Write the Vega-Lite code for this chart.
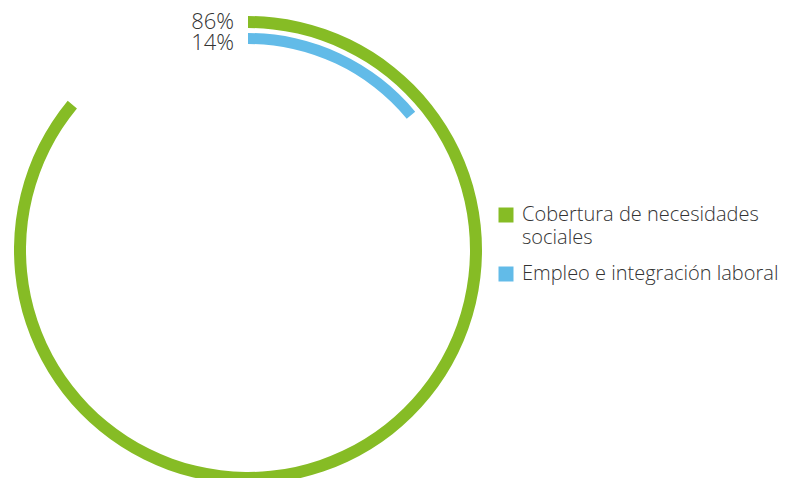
{
  "$schema": "https://vega.github.io/schema/vega-lite/v6.json",
  "width": 496,
  "height": 468,
  "autosize": {"type": "none"},
  "padding": {"left": 0, "top": 16, "right": 290, "bottom": 0},
  "background": "white",
  "config": {
    "view": {"stroke": null},
    "font": "Open Sans",
    "style": {"guide-label": {"lineHeight": 22.5}}
  },
  "data": {
    "values": [
      {"category": "Cobertura de necesidades sociales", "value": 86, "label": "86%"},
      {"category": "Empleo e integración laboral", "value": 14, "label": "14%"}
    ]
  },
  "layer": [
    {
      "transform": [{"filter": "datum.category == 'Cobertura de necesidades sociales'"}],
      "mark": {"type": "arc", "radius": 234, "radius2": 222},
      "encoding": {
        "theta": {"field": "value", "type": "quantitative", "stack": null, "scale": {"domain": [0, 100], "range": [0, 6.283185307]}},
        "theta2": {"datum": 0},
        "color": {
          "field": "category",
          "type": "nominal",
          "scale": {"domain": ["Cobertura de necesidades sociales", "Empleo e integración laboral"], "range": ["#86bc25", "#62bbe8"]},
          "legend": {
            "title": null,
            "orient": "none",
            "legendX": 496,
            "legendY": 189,
            "symbolType": "square",
            "symbolSize": 225,
            "symbolStrokeWidth": 0,
            "symbolOpacity": 1,
            "labelFontSize": 20,
            "labelFont": "Open Sans",
            "labelFontWeight": 300,
            "labelColor": "#333333",
            "labelOffset": 6,
            "labelLimit": 400,
            "rowPadding": 16,
            "labelExpr": "datum.label == 'Cobertura de necesidades sociales' ? ['Cobertura de necesidades', 'sociales'] : datum.label"
          }
        }
      }
    },
    {
      "transform": [{"filter": "datum.category == 'Empleo e integración laboral'"}],
      "mark": {"type": "arc", "radius": 217, "radius2": 206},
      "encoding": {
        "theta": {"field": "value", "type": "quantitative", "stack": null, "scale": {"domain": [0, 100], "range": [0, 6.283185307]}},
        "theta2": {"datum": 0},
        "color": {"field": "category", "type": "nominal"}
      }
    },
    {
      "transform": [{"filter": "datum.category == 'Cobertura de necesidades sociales'"}],
      "mark": {"type": "text", "radius": 228, "align": "right", "baseline": "middle", "dx": -14, "dy": 0, "fontSize": 22, "fontWeight": 300, "color": "#333333"},
      "encoding": {"theta": {"value": 0}, "text": {"field": "label"}}
    },
    {
      "transform": [{"filter": "datum.category == 'Empleo e integración laboral'"}],
      "mark": {"type": "text", "radius": 211.5, "align": "right", "baseline": "middle", "dx": -14, "dy": 4, "fontSize": 22, "fontWeight": 300, "color": "#333333"},
      "encoding": {"theta": {"value": 0}, "text": {"field": "label"}}
    }
  ]
}
